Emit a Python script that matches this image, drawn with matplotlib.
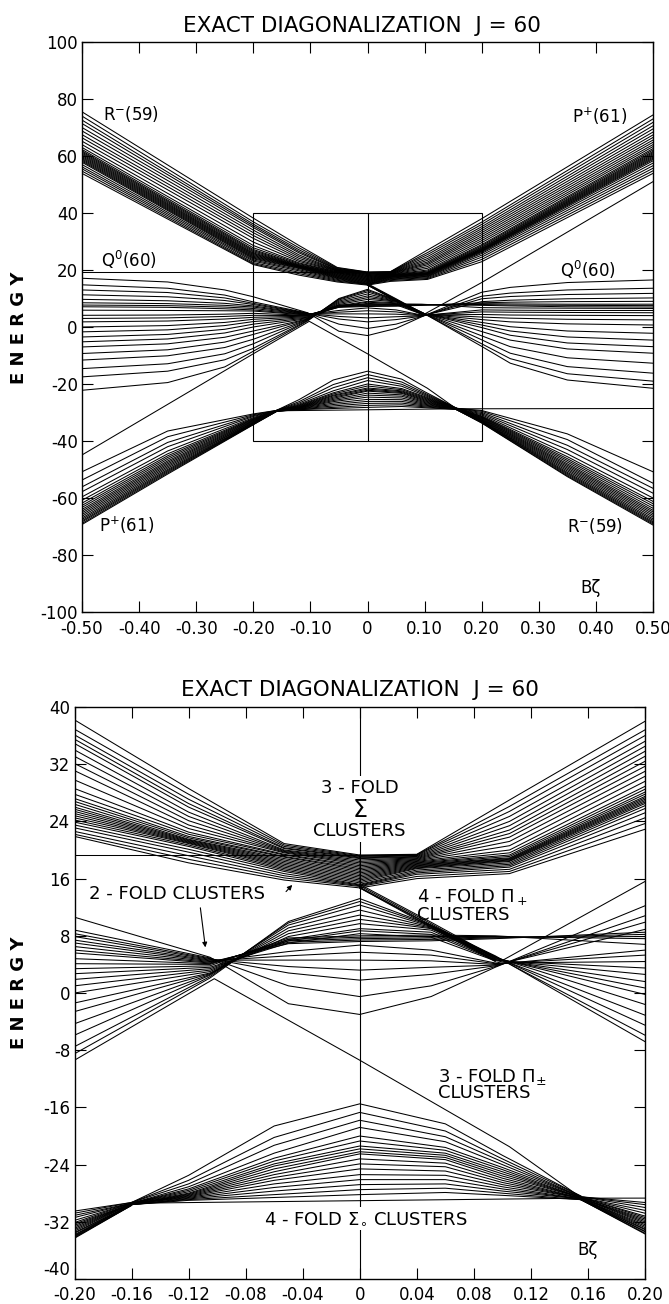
import matplotlib.pyplot as plt
from matplotlib.patches import Rectangle

plt.rcParams['font.family'] = ['DejaVu Sans']

# ---- energy levels, E vs B*zeta ----
# each family: node positions and one list per node (one entry per level)

# R-(59) bundle, upper left
ul_x = [-0.5, -0.2, -0.12, -0.053, 0.0]
ul_m050 = [75.5, 74.0, 72.6, 71.4, 70.0, 68.8, 67.5, 66.4, 65.2, 64.0, 63.0, 62.3, 61.8, 61.4,
           61.0, 60.6, 60.2, 59.8, 59.4, 59.0, 58.6, 58.2, 57.8, 57.0, 56.2, 55.5, 54.7, 53.9]
ul_m020 = [38.2, 36.9, 36.1, 35.5, 34.9, 34.0, 33.1, 32.1, 31.1, 29.8, 28.6, 27.8, 27.2, 26.8,
           26.4, 26.0, 25.7, 25.4, 25.1, 24.8, 24.5, 24.2, 23.9, 23.5, 23.1, 22.6, 22.2, 21.9]
ul_m012 = [28.6, 27.8, 27.1, 26.5, 26.0, 25.3, 24.7, 24.1, 23.5, 23.0, 22.5, 22.2, 21.9, 21.7,
           21.5, 21.4, 21.3, 21.2, 21.1, 21.0, 20.9, 20.7, 20.5, 20.1, 19.7, 19.2, 18.7, 18.2]
ul_m005 = [20.9, 20.7, 20.5, 20.3, 20.2, 20.0, 19.9, 19.8, 19.7, 19.6, 19.4, 19.3, 19.1, 19.0,
           18.8, 18.6, 18.4, 18.2, 18.0, 17.8, 17.6, 17.4, 17.2, 17.0, 16.7, 16.4, 16.1, 15.8]
sig_000 = [19.3, 19.2, 19.1, 19.0, 18.9, 18.8, 18.6, 18.4, 18.2, 18.0, 17.8, 17.6, 17.4, 17.2,
           17.0, 16.8, 16.6, 16.4, 16.2, 16.0, 15.8, 15.6, 15.4, 15.2, 15.1, 15.0, 14.9, 14.7]

# P+(61) bundle, upper right
ur_x = [0.0, 0.04, 0.105, 0.2, 0.5]
ur_004 = [19.4, 19.35, 19.3, 19.2, 19.1, 19.0, 18.9, 18.8, 18.7, 18.6, 18.5, 18.4, 18.3, 18.2,
          18.1, 18.0, 17.9, 17.8, 17.7, 17.6, 17.5, 17.4, 17.2, 17.0, 16.8, 16.6, 16.3, 16.0]
ur_0105 = [27.0, 26.1, 25.4, 24.7, 24.0, 23.4, 22.8, 22.3, 21.8, 21.2, 20.6, 20.0, 19.6, 19.3,
           19.1, 18.9, 18.8, 18.7, 18.6, 18.5, 18.4, 18.2, 18.0, 17.8, 17.6, 17.3, 17.0, 16.7]
ur_020 = [38.0, 36.8, 36.0, 35.2, 34.5, 33.8, 33.1, 32.4, 31.7, 31.0, 30.3, 29.6, 28.9, 28.5,
          28.1, 27.8, 27.5, 27.3, 27.1, 26.9, 26.7, 26.5, 26.2, 25.8, 25.2, 24.5, 23.7, 22.9]
ur_050 = [74.4, 73.0, 71.8, 70.6, 69.5, 68.4, 67.4, 66.5, 65.6, 64.8, 64.0, 63.3, 62.6, 62.1,
          61.6, 61.2, 60.8, 60.4, 60.0, 59.6, 59.2, 58.8, 58.3, 57.5, 56.6, 55.7, 54.8, 53.9]

# Q0(60) levels across the middle
q_x = [-0.5, -0.35, -0.25, -0.2, -0.105, -0.05, 0.0, 0.05, 0.095, 0.2, 0.25, 0.35, 0.5]
q_m050 = [17.1, 14.8, 13.0, 11.3, 9.7, 8.5, 7.7, 7.1, 5.9, 4.1, 3.0, 1.8, 0.0, -1.7, -3.5,
          -5.2, -7.0, -9.3, -11.6, -14.6, -17.5, -22.2]
q_m035 = [15.8, 13.6, 12.1, 10.6, 9.2, 8.2, 7.5, 6.9, 5.8, 4.2, 3.2, 2.1, 0.5, -1.0, -2.6,
          -4.2, -5.9, -8.0, -10.1, -12.9, -15.5, -19.5]
q_m025 = [13.0, 11.2, 10.2, 9.3, 8.3, 7.6, 7.0, 6.4, 5.7, 4.5, 3.7, 2.8, 1.6, 0.5, -0.8,
          -2.1, -3.6, -5.3, -7.2, -9.4, -11.5, -14.0]
q_m020 = [10.6, 8.8, 8.3, 7.9, 7.4, 7.0, 6.5, 6.0, 5.6, 4.8, 4.1, 3.4, 2.7, 1.9, 1.0,
          0.0, -1.4, -2.6, -4.3, -5.9, -7.5, -8.5]
q_m0105 = [5.0, 4.9, 4.8, 4.7, 4.6, 4.5, 4.4, 4.3, 4.2, 4.1, 4.0, 3.8, 3.6, 3.4, 3.2,
           3.0, 2.8, 2.7, 2.6, 2.5, 2.3, 2.1]
q_m005 = [-1.5, 1.0, 2.8, 3.7, 4.6, 5.2, 5.8, 6.9, 7.1, 7.3, 7.5, 7.7, 7.0, 7.3, 7.5,
          7.9, 8.3, 8.7, 9.1, 9.5, 9.8, 10.0]
q_000 = [-3.0, -0.5, 1.8, 3.2, 4.6, 5.7, 6.7, 7.2, 7.4, 7.6, 7.8, 8.0, 8.3, 8.7, 9.0,
         9.7, 10.3, 10.9, 11.6, 12.3, 12.8, 13.2]
q_005 = [-0.5, 1.0, 2.6, 3.6, 4.5, 5.3, 6.0, 7.3, 7.5, 7.7, 7.9, 8.1, 7.8, 8.2, 8.5,
         8.8, 9.0, 9.1, 9.2, 9.3, 9.4, 9.5]
q_0095 = [3.6, 3.7, 3.8, 3.9, 4.0, 4.1, 4.2, 7.6, 7.7, 7.8, 7.9, 8.0, 4.5, 4.6, 4.7,
          4.8, 4.9, 5.0, 5.0, 5.1, 5.1, 5.2]
q_020 = [12.2, 10.8, 9.9, 8.9, 6.0, 5.3, 4.4, 8.5, 8.2, 7.9, 7.6, 6.8, 3.5, 2.6, 1.6,
         0.7, -0.2, -1.6, -3.1, -4.5, -5.9, -6.8]
q_025 = [13.9, 11.9, 10.7, 9.4, 5.9, 5.2, 4.2, 8.7, 8.1, 7.7, 7.4, 6.7, 3.1, 1.8, 0.1,
         -1.4, -2.9, -4.6, -6.9, -9.2, -11.1, -12.7]
q_035 = [15.6, 13.0, 11.4, 9.9, 5.8, 5.1, 4.1, 8.9, 8.0, 7.6, 7.1, 6.6, 2.7, 1.1, -1.4,
         -3.5, -5.6, -7.7, -10.8, -13.9, -16.4, -18.6]
q_050 = [16.5, 13.6, 11.8, 10.2, 5.8, 5.0, 4.0, 9.0, 8.0, 7.5, 7.0, 6.5, 2.5, 0.7, -2.2,
         -4.6, -6.9, -9.2, -12.7, -16.2, -19.0, -21.5]

# flat Q0 edges
qtop_x = [-0.5, 0.04]
qtop_e = [19.3, 19.3]
qbot_x = [-0.16, 0.155, 0.5]
qbot_e = [-29.4, -28.7, -28.6]

# steep diagonal from the V bottom into the right crossing
dg_x = [0.0, 0.05, 0.095]
dg_000 = [15.2, 15.0, 14.8, 14.7, 14.7]
dg_005 = [9.9, 9.7, 9.5, 9.4, 9.2]
dg_0095 = [5.0, 4.8, 4.6, 4.5, 4.4]

# single straight levels
s1_x = [-0.5, -0.2, -0.102, 0.0, 0.105, 0.155]
s1_e = [-44.9, -9.4, 2.0, -9.4, -21.5, -28.6]
s2_x = [0.095, 0.2, 0.5]
s2_e = [4.0, 15.6, 51.0]

# 4-fold Sigma0 cluster, lower middle
sg_x = [-0.16, -0.12, -0.06, 0.0, 0.06, 0.1, 0.155]
sg_m016 = [-29.3, -29.3, -29.3, -29.4, -29.4, -29.4, -29.4, -29.4, -29.5, -29.5, -29.5, -29.5,
           -29.5, -29.5, -29.6, -29.6, -29.6, -29.6]
sg_m012 = [-25.5, -26.2, -26.7, -27.1, -27.4, -27.6, -27.8, -28.0, -28.1, -28.2, -28.3, -28.4,
           -28.5, -28.6, -28.7, -28.8, -28.9, -29.0]
sg_m006 = [-18.6, -20.2, -21.3, -22.4, -23.1, -23.5, -23.9, -24.2, -24.6, -25.0, -25.4, -25.8,
           -26.2, -26.7, -27.2, -27.7, -28.2, -28.6]
sg_000 = [-15.5, -16.7, -17.8, -18.8, -20.0, -20.7, -21.4, -21.8, -22.2, -22.5, -23.2, -23.9,
          -24.6, -25.4, -26.1, -26.8, -27.5, -28.2]
sg_006 = [-18.3, -19.3, -20.1, -20.8, -21.6, -22.0, -22.4, -22.7, -23.0, -23.3, -23.8, -24.3,
          -24.9, -25.5, -26.1, -26.7, -27.3, -27.9]
sg_010 = [-22.7, -23.2, -23.6, -24.0, -24.4, -24.7, -25.0, -25.3, -25.6, -25.9, -26.2, -26.5,
          -26.8, -27.1, -27.4, -27.7, -28.0, -28.3]
sg_0155 = [-28.4, -28.4, -28.5, -28.5, -28.5, -28.6, -28.6, -28.6, -28.6, -28.7, -28.7, -28.7,
           -28.7, -28.8, -28.8, -28.8, -28.9, -28.9]

# P+(61) bundle, lower left
ll_x = [-0.5, -0.35, -0.2, -0.16]
ll_m050 = [-50.8, -53.7, -56.1, -57.8, -59.6, -60.8, -61.8, -62.6, -63.3, -64.0, -64.6, -65.2,
           -65.8, -66.4, -67.0, -67.5, -68.0, -68.4, -68.9, -69.3]
ll_m035 = [-36.5, -38.5, -40.5, -42.0, -43.5, -44.5, -45.2, -45.8, -46.4, -47.0, -47.5, -48.0,
           -48.5, -49.0, -49.5, -50.0, -50.4, -50.8, -51.2, -51.6]
ll_m020 = [-30.5, -30.8, -31.1, -31.4, -31.8, -32.1, -32.3, -32.5, -32.7, -32.9, -33.1, -33.3,
           -33.5, -33.6, -33.8, -33.9, -34.0, -34.1, -34.2, -34.3]
ll_m016 = [-29.3, -29.3, -29.4, -29.4, -29.4, -29.4, -29.5, -29.5, -29.5, -29.5, -29.5, -29.5,
           -29.6, -29.6, -29.6, -29.6, -29.6, -29.7, -29.7, -29.7]

# R-(59) bundle, lower right
lr_x = [0.155, 0.2, 0.35, 0.5]
lr_0155 = [-28.5, -28.5, -28.5, -28.6, -28.6, -28.6, -28.6, -28.7, -28.7, -28.7, -28.7, -28.8,
           -28.8, -28.8, -28.8, -28.9, -28.9, -28.9, -28.9, -28.9]
lr_020 = [-29.3, -29.6, -30.0, -30.4, -30.8, -31.2, -31.4, -31.6, -31.8, -32.0, -32.2, -32.4,
          -32.6, -32.8, -33.0, -33.1, -33.3, -33.4, -33.6, -33.7]
lr_035 = [-37.5, -39.5, -41.5, -43.0, -44.5, -45.5, -46.2, -46.8, -47.4, -48.0, -48.5, -49.0,
          -49.5, -50.0, -50.5, -51.0, -51.4, -51.8, -52.2, -52.5]
lr_050 = [-50.8, -54.8, -56.6, -58.3, -60.0, -61.2, -62.0, -62.8, -63.6, -64.3, -64.9, -65.5,
          -66.1, -66.7, -67.3, -67.8, -68.3, -68.7, -69.1, -69.5]

families = [
    (ul_x, [ul_m050, ul_m020, ul_m012, ul_m005, sig_000]),
    (ur_x, [sig_000, ur_004, ur_0105, ur_020, ur_050]),
    (q_x, [q_m050, q_m035, q_m025, q_m020, q_m0105, q_m005, q_000, q_005, q_0095,
           q_020, q_025, q_035, q_050]),
    (qtop_x, [[v] for v in qtop_e]),
    (qbot_x, [[v] for v in qbot_e]),
    (dg_x, [dg_000, dg_005, dg_0095]),
    (s1_x, [[v] for v in s1_e]),
    (s2_x, [[v] for v in s2_e]),
    (sg_x, [sg_m016, sg_m012, sg_m006, sg_000, sg_006, sg_010, sg_0155]),
    (ll_x, [ll_m050, ll_m035, ll_m020, ll_m016]),
    (lr_x, [lr_0155, lr_020, lr_035, lr_050]),
]

# axes ranges and ticks
top_xticks = [-0.5, -0.4, -0.3, -0.2, -0.1, 0, 0.1, 0.2, 0.3, 0.4, 0.5]
top_xlabels = ['-0.50', '-0.40', '-0.30', '-0.20', '-0.10', '0', '0.10', '0.20', '0.30', '0.40', '0.50']
top_yticks = [-100, -80, -60, -40, -20, 0, 20, 40, 60, 80, 100]
top_ylabels = ['-100', '-80', '-60', '-40', '-20', '0', '20', '40', '60', '80', '100']
bot_xticks = [-0.2, -0.16, -0.12, -0.08, -0.04, 0, 0.04, 0.08, 0.12, 0.16, 0.2]
bot_xlabels = ['-0.20', '-0.16', '-0.12', '-0.08', '-0.04', '0', '0.04', '0.08', '0.12', '0.16', '0.20']
bot_yticks = [-40, -32, -24, -16, -8, 0, 8, 16, 24, 32, 40]
bot_ylabels = ['-40', '-32', '-24', '-16', '-8', '0', '8', '16', '24', '32', '40']


def draw_levels(ax):
    for xs, cols in families:
        for row in zip(*cols):
            ax.plot(xs, row, color='k', lw=0.75, solid_joinstyle='round')


def style_axes(ax, xt, xl, yt, yl, xpad):
    ax.set_xlim(xt[0], xt[-1])
    ax.set_ylim(yt[0], yt[-1])
    ax.set_xticks(xt)
    ax.set_xticklabels(xl)
    ax.set_yticks(yt)
    ax.set_yticklabels(yl)
    ax.tick_params(direction='in', length=8, width=0.8, top=True, right=True, labelsize=12)
    ax.tick_params(axis='x', pad=xpad)
    ax.tick_params(axis='y', pad=3)
    for s in ax.spines.values():
        s.set_linewidth(1.0)


fig = plt.figure(figsize=(6.69, 13.04), dpi=100)
ax1 = fig.add_axes([82 / 669, 1 - 612 / 1304, 571 / 669, 570 / 1304])
ax2 = fig.add_axes([74.5 / 669, 1 - 1279 / 1304, 570.5 / 669, 572 / 1304])

# ---- top panel: full range ----
draw_levels(ax1)
style_axes(ax1, top_xticks, top_xlabels, top_yticks, top_ylabels, 6)
bx0, bx1 = bot_xticks[0], bot_xticks[-1]
by0, by1 = bot_yticks[0], bot_yticks[-1]
ax1.add_patch(Rectangle((bx0, by0), bx1 - bx0, by1 - by0, fill=False, lw=0.8, ec='k'))
ax1.vlines(0, by0, by1, color='k', lw=0.8)
lab = dict(fontsize=12, va='center')
ax1.text(-0.463, 74.6, r'R$^{-}$(59)', ha='left', **lab)
ax1.text(0.454, 74.0, r'P$^{+}$(61)', ha='right', **lab)
ax1.text(-0.467, 23.7, r'Q$^{0}$(60)', ha='left', **lab)
ax1.text(0.435, 20.0, r'Q$^{0}$(60)', ha='right', **lab)
ax1.text(-0.47, -69.5, r'P$^{+}$(61)', ha='left', **lab)
ax1.text(0.447, -70.0, r'R$^{-}$(59)', ha='right', **lab)
ax1.text(0.39, -91.5, 'Bζ', ha='center', **lab)

# ---- bottom panel: central box enlarged ----
ax2.vlines(0, by0, by1, color='k', lw=0.8, zorder=1)
draw_levels(ax2)
style_axes(ax2, bot_xticks, bot_xlabels, bot_yticks, bot_ylabels, 5)
# lift the lowest y label a little so it clears the first x label
ax2.get_yticklabels()[0].set_va('bottom')
ann = dict(fontsize=13, va='center')
wb = dict(fc='white', ec='none', pad=2)
ax2.text(0.0, 28.7, '3 - FOLD', ha='center', bbox=wb, zorder=5, **ann)
ax2.text(0.0, 25.6, 'Σ', ha='center', fontsize=17, va='center', bbox=wb, zorder=5)
ax2.text(0.0, 22.7, 'CLUSTERS', ha='center', bbox=wb, zorder=5, **ann)
ax2.text(-0.19, 13.9, '2 - FOLD CLUSTERS', ha='left', **ann)
ax2.text(0.04, 13.4, r'4 - FOLD $\Pi_+$', ha='left', **ann)
ax2.text(0.04, 10.9, 'CLUSTERS', ha='left', **ann)
ax2.text(0.055, -11.7, r'3 - FOLD $\Pi_{\pm}$', ha='left', **ann)
ax2.text(0.055, -14.0, 'CLUSTERS', ha='left', **ann)
ax2.text(0.004, -31.5, r'4 - FOLD $\Sigma_{\circ}$ CLUSTERS', ha='center',
         bbox=wb, zorder=5, **ann)
ax2.text(0.16, -35.9, 'Bζ', ha='center', fontsize=12, va='center')
arw = dict(arrowstyle='-|>', lw=0.8, color='k', mutation_scale=7)
ax2.annotate('', xy=(-0.046, 15.4), xytext=(-0.053, 13.9), arrowprops=arw)
ax2.annotate('', xy=(-0.108, 6.0), xytext=(-0.112, 12.3), arrowprops=arw)

# titles and axis names
fig.text(362 / 669, 1 - 25.5 / 1304, 'EXACT DIAGONALIZATION  J = 60', ha='center', va='center', fontsize=15.5)
fig.text(360 / 669, 1 - 689.5 / 1304, 'EXACT DIAGONALIZATION  J = 60', ha='center', va='center', fontsize=15.5)
fig.text(19 / 669, 1 - 328 / 1304, 'E N E R G Y', rotation=90, ha='center', va='center',
         fontsize=13, fontweight='bold')
fig.text(19 / 669, 1 - 993 / 1304, 'E N E R G Y', rotation=90, ha='center', va='center',
         fontsize=13, fontweight='bold')

fig.savefig('out.png', dpi=100, facecolor='white')
